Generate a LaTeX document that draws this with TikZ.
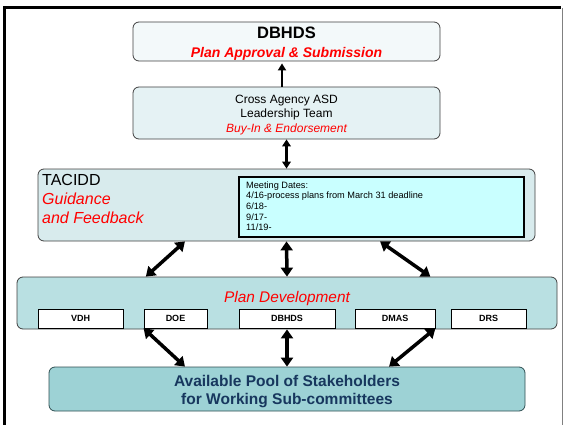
\documentclass[tikz,border=0pt]{standalone}
\usepackage{fontspec}
\setmainfont{Liberation Sans}
\usetikzlibrary{arrows.meta,calc,positioning}

\definecolor{boxline}{HTML}{404040}
\definecolor{topfill}{HTML}{F3F9FA}
\definecolor{crossfill}{HTML}{E5F2F4}
\definecolor{tacfill}{HTML}{D8EBED}
\definecolor{meetfill}{HTML}{C9FFFF}
\definecolor{devfill}{HTML}{B9E0E2}
\definecolor{poolfill}{HTML}{9DD2D5}
\definecolor{poolline}{HTML}{2F4F52}
\definecolor{pooltext}{HTML}{17375E}
\definecolor{redtext}{HTML}{FF0000}

\begin{document}
\begin{tikzpicture}[x=1pt,y=-1pt,
	box/.style={draw=boxline,line width=0.8pt,rounded corners=6pt,inner sep=0pt},
	agency/.style={draw=black,fill=white,line width=0.8pt,inner sep=0pt,minimum height=19pt,font=\fontsize{9}{10}\selectfont\bfseries},
	txt/.style={inner sep=0pt},
	link/.style={line width=3.5pt,{Triangle[length=9pt,width=12pt]}-{Triangle[length=9pt,width=12pt]}},
	thinlink/.style={line width=2.2pt,{Triangle[length=7pt,width=8.5pt]}-{Triangle[length=7pt,width=8.5pt]}}]
	\useasboundingbox (0,0) rectangle (564,425);
	% frame
	\draw[line width=3pt] (4.5,425) -- (4.5,8) -- (561,8);
	\draw[gray,line width=0.8pt] (562.5,8) -- (562.5,425);

	% boxes
	\node[box,fill=topfill,minimum width=307pt,minimum height=39pt] (dbhds) at (286.5,41.5) {};
	\node[box,fill=crossfill,minimum width=307pt,minimum height=52pt] (cross) at (286.5,113) {};
	\node[box,fill=tacfill,minimum width=497pt,minimum height=72pt] (tacidd) at (286.5,205) {};
	\node[draw=black,fill=meetfill,line width=2.5pt,minimum width=285pt,minimum height=60pt,inner sep=0pt] (meet) at (381.5,207) {};
	\node[box,fill=devfill,minimum width=540pt,minimum height=52pt] (plandev) at (287,303) {};
	\node[box,draw=poolline,fill=poolfill,minimum width=476pt,minimum height=44pt] (pool) at (287,389) {};

	% agencies
	\node[agency,minimum width=85pt] (vdh) at (80.5,318.5) {VDH};
	\node[agency,minimum width=63pt] (doe) at (175.5,318.5) {DOE};
	\node[agency,minimum width=96pt] (dbhdsag) at (287,318.5) {DBHDS};
	\node[agency,minimum width=80pt] (dmas) at (395,318.5) {DMAS};
	\node[agency,minimum width=75pt] (drs) at (488.5,318.5) {DRS};

	% texts
	\node[txt,anchor=base,font=\fontsize{16.5}{19}\selectfont\bfseries] (dbhdstitle) at (286.5,39) {DBHDS};
	\node[txt,anchor=base,text=redtext,font=\fontsize{14}{16}\selectfont\bfseries\itshape] (approval) at (286.5,58) {Plan Approval \& Submission};
	\node[txt,align=center,font=\fontsize{12}{14.5}\selectfont] (crosstext) at (286.5,114.9)
		{Cross Agency ASD\\Leadership Team\\\textcolor{redtext}{\itshape Buy-In \& Endorsement}};
	\node[txt,align=left,anchor=west,font=\fontsize{16}{19}\selectfont] (tacidtext) at (42,199)
		{TACIDD\\\textcolor{redtext}{\itshape Guidance}\\\textcolor{redtext}{\itshape and Feedback}};
	\node[txt,align=left,anchor=west,font=\fontsize{9.2}{10.6}\selectfont] (meettext) at (246,206.2)
		{Meeting Dates:\\4/16-process plans from March 31 deadline\\6/18-\\9/17-\\11/19-};
	\node[txt,anchor=base,text=redtext,font=\fontsize{15.4}{17}\selectfont\itshape] (devtext) at (287,302.5) {Plan Development};
	\node[txt,align=center,text=pooltext,font=\fontsize{15.5}{18}\selectfont\bfseries] (pooltext) at (287,391.5)
		{Available Pool of Stakeholders\\for Working Sub-committees};

	% connectors
	\draw[line width=2.4pt,-{Triangle[length=7pt,width=8pt]},shorten >=2pt] ($(cross.north)+(-4.5,0)$) -- ($(dbhds.south)+(-4.5,0)$);
	\draw[thinlink] (cross.south) -- (tacidd.north);
	\draw[link] ($(tacidd.south west)!0.296!(tacidd.south east)$) -- ($(plandev.north west)!0.239!(plandev.north east)$);
	\draw[link] (tacidd.south) -- (plandev.north);
	\draw[link] ($(tacidd.south west)!0.688!(tacidd.south east)$) -- ($(plandev.north west)!0.765!(plandev.north east)$);
	\draw[link] (doe.south west) -- ($(pool.north west)!0.286!(pool.north east)$);
	\draw[link] (plandev.south) -- (pool.north);
	\draw[link] (dmas.south east) -- ($(pool.north west)!0.714!(pool.north east)$);
\end{tikzpicture}
\end{document}
